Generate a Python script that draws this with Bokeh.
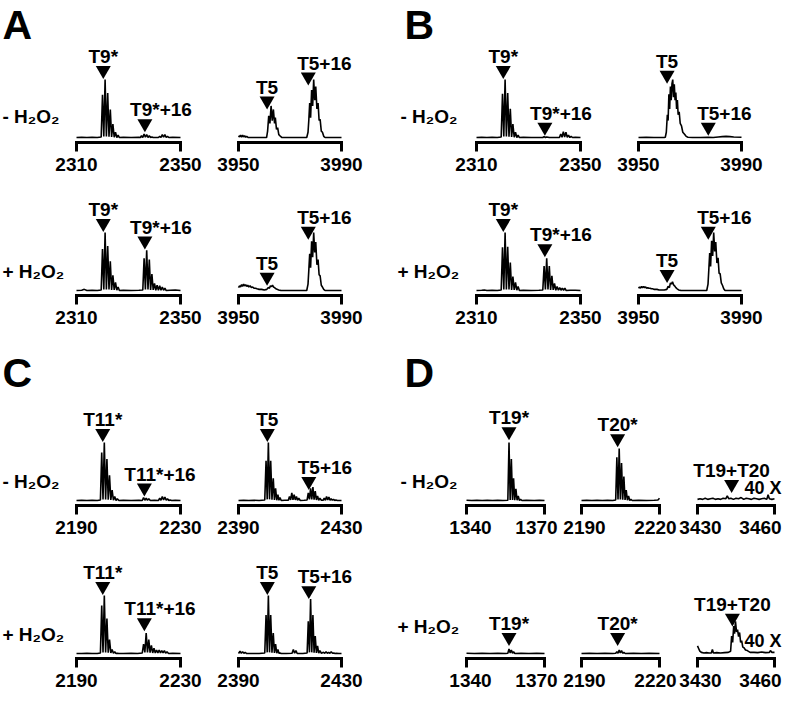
from bokeh.plotting import figure
from bokeh.layouts import row, column
from bokeh.models import Range1d, FixedTicker
from bokeh.core.properties import value
from bokeh.embed import file_html
from bokeh.resources import INLINE

# ---------------------------------------------------------------- data
panel_letters = ["A", "B", "C", "D"]
conditions = ["- H₂O₂", "+ H₂O₂"]
scale_note = "40 X"

a_lo_ticks = [2310, 2350]
a_hi_ticks = [3950, 3990]
b_lo_ticks = [2310, 2350]
b_hi_ticks = [3950, 3990]
c_lo_ticks = [2190, 2230]
c_hi_ticks = [2390, 2430]
d_t19_ticks = [1340, 1370]
d_t20_ticks = [2190, 2220]
d_xl_ticks = [3430, 3460]

# A, - H2O2, 2310-2350
a_minus_lo_mz = [2310, 2312, 2314, 2316, 2318, 2319.5, 2320, 2320.5, 2321, 2321.5, 2322, 2322.5, 2323, 2323.5, 2324, 2324.5, 2325, 2325.5, 2326, 2326.5, 2328, 2331, 2334, 2334.6, 2335, 2335.5, 2336, 2336.5, 2337, 2337.5, 2338, 2338.5, 2339, 2339.5, 2341.5, 2342, 2342.5, 2343, 2343.5, 2344, 2344.5, 2345, 2345.5, 2347, 2350]
a_minus_lo_int = [1, 1.5, 1, 1.5, 1, 2, 74, 3, 100, 3, 77, 2.5, 49, 2, 24, 1.5, 10, 1, 5, 1, 1.5, 1, 1.5, 1, 4, 1, 7, 1.5, 6, 1, 4, 1, 2, 1, 1, 3, 1, 6, 1.5, 6, 1, 3, 1, 1.5, 1]
a_minus_lo_labels = ["T9*", "T9*+16"]
a_minus_lo_peaks = [2320.3, 2336.3]
a_minus_lo_tips = [101, 10]

# A, - H2O2, 3950-3990
a_minus_hi_mz = [3950, 3950.4, 3950.8, 3951.2, 3951.6, 3952.0, 3952.4, 3952.8, 3953.2, 3953.8, 3955, 3958, 3960.9, 3961.3, 3961.74, 3962.2, 3962.65, 3963.1, 3963.55, 3964.0, 3964.3, 3964.75, 3965.2, 3965.65, 3966.1, 3966.9, 3970, 3974, 3976.5, 3977.0, 3977.3, 3977.65, 3978.0, 3978.4, 3978.8, 3979.2, 3979.6, 3980.0, 3980.45, 3980.9, 3981.3, 3981.7, 3982.15, 3982.6, 3983.1, 3983.6, 3986, 3990]
a_minus_hi_int = [4, 2, 5, 1.5, 5, 2, 4, 1.5, 3, 1, 1, 1, 1, 12, 38, 25, 55, 30, 49, 25, 35, 15, 18, 6, 4, 1, 1, 1, 1, 10, 30, 60, 35, 82, 55, 100, 65, 88, 50, 60, 30, 32, 12, 10, 3, 1, 1, 1]
a_minus_hi_labels = ["T5", "T5+16"]
a_minus_hi_peaks = [3961.1, 3977.1]
a_minus_hi_tips = [49, 90]

# A, + H2O2, 2310-2350
a_plus_lo_mz = [2310, 2312, 2313, 2314, 2316, 2318, 2319.5, 2320, 2320.5, 2321, 2321.5, 2322, 2322.5, 2323, 2323.5, 2324, 2324.5, 2325, 2325.5, 2326, 2326.5, 2328, 2331, 2334, 2335.5, 2336, 2336.5, 2337, 2337.5, 2338, 2338.5, 2339, 2339.5, 2340, 2340.5, 2341, 2341.5, 2342, 2342.5, 2343, 2343.5, 2344, 2344.5, 2346, 2348, 2350]
a_plus_lo_int = [1, 1.5, 3, 1, 1.5, 1, 2, 72, 3, 100, 3, 77, 3, 51, 2, 27, 2, 15, 1.5, 7, 1, 1.5, 1, 1.5, 2, 56, 3, 70, 3, 54, 2, 29, 2, 13, 1.5, 10, 1.5, 9, 1.5, 7, 1.5, 5, 1, 1.5, 2, 1]
a_plus_lo_labels = ["T9*", "T9*+16"]
a_plus_lo_peaks = [2320.3, 2336.3]
a_plus_lo_tips = [101, 71]

# A, + H2O2, 3950-3990
a_plus_hi_mz = [3950, 3950.4, 3950.8, 3951.2, 3951.6, 3952.0, 3952.4, 3952.8, 3953.2, 3953.6, 3954.0, 3954.5, 3955.0, 3955.5, 3956.0, 3956.6, 3957.2, 3958, 3959, 3960, 3961, 3961.5, 3962.0, 3962.4, 3962.8, 3963.2, 3963.6, 3964.0, 3964.5, 3965.0, 3965.6, 3966.5, 3968, 3971, 3974, 3976.5, 3977.0, 3977.3, 3977.65, 3978.0, 3978.4, 3978.8, 3979.2, 3979.6, 3980.0, 3980.45, 3980.9, 3981.3, 3981.7, 3982.15, 3982.6, 3983.1, 3983.6, 3986, 3990]
a_plus_hi_int = [6, 9, 7, 11, 8, 12, 9, 11, 8, 10, 7, 9, 6, 7, 5, 5, 4, 3, 3, 2, 3, 6, 5, 9, 8, 10, 7, 6, 4, 3, 2, 1, 1, 1, 1, 1, 12, 35, 64, 40, 85, 58, 100, 66, 84, 45, 54, 28, 26, 10, 7, 3, 1, 1, 1]
a_plus_hi_labels = ["T5", "T5+16"]
a_plus_hi_peaks = [3961.1, 3977.1]
a_plus_hi_tips = [9, 88]

# B, - H2O2, 2310-2350
b_minus_lo_mz = [2310, 2312, 2314, 2316, 2318, 2319.5, 2320, 2320.5, 2321, 2321.5, 2322, 2322.5, 2323, 2323.5, 2324, 2324.5, 2325, 2325.5, 2326, 2326.5, 2328, 2331, 2334, 2335.5, 2336, 2336.5, 2337, 2338, 2340, 2341.9, 2342.4, 2342.9, 2343.4, 2343.9, 2344.4, 2344.9, 2345.4, 2345.9, 2346.4, 2346.9, 2348, 2350]
b_minus_lo_int = [1, 1.5, 1, 1.5, 1, 2, 76, 3, 100, 3, 77, 2.5, 50, 2, 24, 1.5, 10, 1, 5, 1, 1.5, 1, 1, 1, 2.5, 1, 2, 1, 1, 1, 7, 1.5, 11, 2, 10, 1.5, 5, 1, 3, 1, 1.5, 1]
b_minus_lo_labels = ["T9*", "T9*+16"]
b_minus_lo_peaks = [2320.3, 2336.3]
b_minus_lo_tips = [101, 4]

# B, - H2O2, 3950-3990
b_minus_hi_mz = [3950, 3953, 3956, 3958, 3960.0, 3960.4, 3960.8, 3961.2, 3961.5, 3961.8, 3962.1, 3962.4, 3962.7, 3963.0, 3963.3, 3963.6, 3963.9, 3964.2, 3964.5, 3964.8, 3965.1, 3965.4, 3965.8, 3966.2, 3966.7, 3967.2, 3967.8, 3968.5, 3969.2, 3971, 3974, 3977, 3979, 3981, 3982.5, 3984, 3985.5, 3987, 3990]
b_minus_hi_int = [1, 1.5, 1, 1, 1, 1.5, 10, 40, 30, 75, 50, 88, 65, 93, 100, 70, 92, 65, 78, 50, 65, 40, 45, 25, 21, 10, 7, 3, 1.5, 1, 1, 1.5, 1, 2, 2.5, 3, 2.5, 2, 1.5]
b_minus_hi_labels = ["T5", "T5+16"]
b_minus_hi_peaks = [3961.1, 3977.1]
b_minus_hi_tips = [93, 4]

# B, + H2O2, 2310-2350
b_plus_lo_mz = [2310, 2312, 2313, 2314, 2316, 2318, 2319.5, 2320, 2320.5, 2321, 2321.5, 2322, 2322.5, 2323, 2323.5, 2324, 2324.5, 2325, 2325.5, 2326, 2326.5, 2328, 2331, 2334, 2335.5, 2336, 2336.5, 2337, 2337.5, 2338, 2338.5, 2339, 2339.5, 2340, 2340.5, 2341, 2341.5, 2342, 2342.5, 2343, 2343.5, 2344, 2344.5, 2346, 2348, 2350]
b_plus_lo_int = [1, 1.5, 2, 1, 1.5, 1, 2, 75, 3, 100, 3, 76, 3, 49, 2, 25, 2, 15, 1.5, 8, 1, 1.5, 1, 1.5, 2, 43, 3, 56, 3, 43, 2, 26, 2, 13, 1.5, 8, 1.5, 6, 1.5, 5, 1.5, 5, 1, 1.5, 1.5, 1]
b_plus_lo_labels = ["T9*", "T9*+16"]
b_plus_lo_peaks = [2320.3, 2336.3]
b_plus_lo_tips = [101, 58]

# B, + H2O2, 3950-3990
b_plus_hi_mz = [3950, 3950.4, 3950.8, 3951.2, 3951.6, 3952.0, 3952.4, 3952.8, 3953.2, 3953.6, 3954.0, 3954.5, 3955.0, 3955.5, 3956.0, 3956.6, 3957.2, 3958, 3959, 3960, 3961, 3961.5, 3962.0, 3962.4, 3962.8, 3963.2, 3963.6, 3964.0, 3964.5, 3965.0, 3965.6, 3966.5, 3968, 3971, 3974, 3976.5, 3977.0, 3977.3, 3977.65, 3978.0, 3978.4, 3978.8, 3979.2, 3979.6, 3980.0, 3980.45, 3980.9, 3981.3, 3981.7, 3982.15, 3982.6, 3983.1, 3983.6, 3986, 3990]
b_plus_hi_int = [5, 7, 5, 8, 6, 8, 6, 7, 5, 6, 5, 5, 4, 4, 3, 3, 3, 2, 2, 2, 3, 8, 6, 14, 12, 16, 11, 9, 6, 4, 2, 1, 1, 1, 1, 1, 12, 36, 65, 42, 86, 60, 100, 68, 84, 48, 57, 30, 30, 14, 10, 4, 1, 1, 1]
b_plus_hi_labels = ["T5", "T5+16"]
b_plus_hi_peaks = [3961.1, 3977.1]
b_plus_hi_tips = [14, 88]

# C, - H2O2, 2190-2230
c_minus_lo_mz = [2190, 2192, 2194, 2196, 2198, 2199.2, 2199.7, 2200.2, 2200.7, 2201.2, 2201.7, 2202.2, 2202.7, 2203.2, 2203.7, 2204.2, 2204.7, 2205.2, 2205.7, 2206.3, 2208, 2211, 2214, 2215.3, 2215.8, 2216.3, 2216.8, 2217.3, 2217.8, 2218.4, 2220, 2221.5, 2222.0, 2222.5, 2223.0, 2223.5, 2224.0, 2224.5, 2225.0, 2225.5, 2226.0, 2226.6, 2228, 2230]
c_minus_lo_int = [1, 1.5, 1, 1.5, 1, 2, 83, 3, 100, 3, 72, 2.5, 44, 2, 19, 1.5, 8, 1, 4, 1, 1.5, 1, 1.5, 1, 6, 1.5, 5, 1.5, 4, 1, 1.5, 1, 5, 1.5, 8, 2, 7, 1.5, 4, 1, 2, 1, 1.5, 1]
c_minus_lo_labels = ["T11*", "T11*+16"]
c_minus_lo_peaks = [2200.1, 2216.1]
c_minus_lo_tips = [101, 8]

# C, - H2O2, 2390-2430
c_minus_hi_mz = [2390, 2392, 2394, 2396, 2398, 2400.2, 2400.7, 2401.15, 2401.6, 2402.05, 2402.5, 2403.0, 2403.5, 2403.95, 2404.4, 2404.85, 2405.3, 2405.7, 2406.1, 2406.6, 2408, 2409.35, 2409.8, 2410.25, 2410.7, 2411.15, 2411.6, 2412.05, 2412.5, 2412.95, 2413.4, 2414, 2415.5, 2416.65, 2417.1, 2417.55, 2418.0, 2418.45, 2418.9, 2419.35, 2419.8, 2420.25, 2420.7, 2421.15, 2421.6, 2422.2, 2422.85, 2423.3, 2423.75, 2424.2, 2424.65, 2425.1, 2425.55, 2426.0, 2426.45, 2426.9, 2427.35, 2427.8, 2428.4, 2430]
c_minus_hi_int = [1, 1.5, 1, 1.5, 1, 2, 69, 3, 100, 3, 69, 2.5, 39, 2, 22, 1.5, 11, 1.5, 6, 1, 1.5, 1.5, 8, 2, 14, 2, 11, 2, 8, 1.5, 5, 1, 1.5, 2, 14, 3, 22, 3, 24, 2.5, 17, 2, 9, 1.5, 5, 1.5, 1.5, 5, 1.5, 8, 2, 7, 1.5, 4, 1.5, 3, 1, 2, 1, 1]
c_minus_hi_labels = ["T5", "T5+16"]
c_minus_hi_peaks = [2401.2, 2417.3]
c_minus_hi_tips = [101, 19]

# C, + H2O2, 2190-2230
c_plus_lo_mz = [2190, 2192, 2194, 2196, 2198, 2199.2, 2199.7, 2200.2, 2200.7, 2201.2, 2201.7, 2202.2, 2202.7, 2203.2, 2203.7, 2204.2, 2204.7, 2205.2, 2205.7, 2206.3, 2208, 2211, 2213.5, 2215.3, 2215.8, 2216.3, 2216.8, 2217.3, 2217.8, 2218.3, 2218.8, 2219.3, 2219.8, 2220.3, 2220.8, 2221.3, 2221.8, 2222.3, 2222.8, 2223.3, 2223.8, 2224.3, 2224.8, 2225.4, 2227, 2230]
c_plus_lo_int = [1, 1, 1.5, 1, 1, 2, 83, 3, 100, 3, 61, 2.5, 25, 2, 8, 1.5, 4, 1, 1.5, 1, 1, 1.5, 1, 2, 17, 3, 36, 3, 25, 2.5, 15, 2, 10, 2, 7, 2, 7, 2, 6, 2, 6, 1.5, 4, 1, 1.5, 1]
c_plus_lo_labels = ["T11*", "T11*+16"]
c_plus_lo_peaks = [2200.1, 2216.1]
c_plus_lo_tips = [101, 39]

# C, + H2O2, 2390-2430
c_plus_hi_mz = [2390, 2390.6, 2391.1, 2391.6, 2392.1, 2392.6, 2393.2, 2395, 2398, 2400.2, 2400.7, 2401.15, 2401.6, 2402.05, 2402.5, 2403.0, 2403.5, 2403.95, 2404.4, 2404.85, 2405.3, 2405.7, 2406.1, 2406.6, 2408.5, 2410.8, 2411.3, 2411.8, 2412.3, 2412.8, 2415, 2416.65, 2417.1, 2417.55, 2418.0, 2418.45, 2418.9, 2419.35, 2419.8, 2420.25, 2420.7, 2421.15, 2421.6, 2422.2, 2423.0, 2423.5, 2424.0, 2424.5, 2425.0, 2425.5, 2426.0, 2426.5, 2427.0, 2427.5, 2428.0, 2429, 2430]
c_plus_hi_int = [1, 5, 1.5, 4, 1.5, 3, 1, 1, 1, 2, 67, 3, 100, 3, 67, 2.5, 36, 2, 17, 1.5, 8, 1.5, 2, 1, 1, 1.5, 8, 1.5, 6, 1, 1, 2, 56, 3, 94, 3, 67, 2.5, 31, 2, 14, 1.5, 6, 1.5, 3, 1.5, 4, 1.5, 3, 1.5, 4, 1.5, 2, 1, 1.5, 1, 1]
c_plus_hi_labels = ["T5", "T5+16"]
c_plus_hi_peaks = [2401.2, 2417.3]
c_plus_hi_tips = [101, 94]

# D, - H2O2
d_minus_t19_mz = [1340, 1342, 1344, 1346, 1348, 1350, 1352, 1354, 1355.9, 1356.35, 1356.8, 1357.25, 1357.7, 1358.1, 1358.55, 1359.0, 1359.45, 1359.9, 1360.35, 1360.8, 1361.3, 1363, 1366, 1368, 1370]
d_minus_t19_int = [1.5, 1, 1.5, 1, 1.5, 1, 1.5, 1, 1.5, 100, 2, 72, 2, 39, 1.5, 21, 1.5, 9, 1, 3, 1, 1.5, 1, 1.5, 1]
d_minus_t19_labels = ["T19*"]
d_minus_t19_peaks = [1356.35]
d_minus_t19_tips = [104]

d_minus_t20_mz = [2190, 2192, 2194, 2196, 2198, 2200, 2202, 2203.15, 2203.6, 2204.05, 2204.5, 2204.95, 2205.4, 2205.85, 2206.3, 2206.75, 2207.2, 2207.65, 2208.1, 2208.55, 2209.0, 2209.5, 2212, 2215, 2218, 2219.4, 2220]
d_minus_t20_int = [1, 1.5, 1, 1.5, 1, 1.5, 1, 2, 75, 3, 90, 3, 65, 2.5, 42, 2, 19, 1.5, 9, 1, 3, 1, 1.5, 1, 1.5, 2, 5]
d_minus_t20_labels = ["T20*"]
d_minus_t20_peaks = [2203.9]
d_minus_t20_tips = [92]

d_minus_xl_mz = [3430, 3431, 3432, 3433, 3434, 3435, 3436, 3437, 3438, 3439, 3440, 3441, 3441.6, 3442.2, 3443, 3444, 3445, 3446, 3447, 3448, 3449, 3450, 3451, 3452, 3453, 3454, 3455, 3456, 3457, 3457.5, 3458, 3459, 3460]
d_minus_xl_int = [3, 4, 3, 5, 3, 4, 5, 3, 4, 3, 5, 4, 9, 4, 5, 3, 5, 4, 6, 3, 5, 4, 3, 5, 4, 3, 4, 5, 3, 11, 4, 3, 4]
d_minus_xl_labels = ["T19+T20"]
d_minus_xl_peaks = [3443.3]
d_minus_xl_tips = [14]

# D, + H2O2
d_plus_t19_mz = [1340, 1343, 1346, 1349, 1352, 1355, 1355.9, 1356.35, 1356.8, 1357.25, 1357.7, 1358.1, 1358.6, 1361, 1364, 1367, 1370]
d_plus_t19_int = [1.5, 1, 1.5, 1, 1.5, 1, 1.5, 9, 2, 7, 1.5, 4, 1, 1.5, 1, 1.5, 1]
d_plus_t19_labels = ["T19*"]
d_plus_t19_peaks = [1356.35]
d_plus_t19_tips = [14]

d_plus_t20_mz = [2190, 2193, 2196, 2199, 2202, 2203.15, 2203.6, 2204.05, 2204.5, 2204.95, 2205.4, 2205.85, 2206.3, 2206.8, 2210, 2213, 2216, 2220]
d_plus_t20_int = [1, 1.5, 1, 1.5, 1, 1.5, 4, 1.5, 7, 2, 6, 1.5, 3, 1, 1.5, 1, 1.5, 1]
d_plus_t20_labels = ["T20*"]
d_plus_t20_peaks = [2203.9]
d_plus_t20_tips = [14]

d_plus_xl_mz = [3430, 3430.4, 3430.9, 3431.5, 3432.5, 3433.5, 3434.5, 3435.4, 3435.8, 3436.2, 3437.5, 3439, 3440.5, 3442, 3442.9, 3443.3, 3443.7, 3444.1, 3444.45, 3444.8, 3445.2, 3445.6, 3446.0, 3446.4, 3446.8, 3447.2, 3447.65, 3448.1, 3448.7, 3449.4, 3450.5, 3452, 3453.5, 3455, 3456.5, 3458, 3458.4, 3459, 3460]
d_plus_xl_int = [14, 10, 5, 3, 2, 2.5, 2, 2, 8, 2, 2.5, 2, 2.5, 3, 5, 31, 20, 48, 35, 56, 38, 42, 30, 37, 20, 23, 12, 11, 7, 6, 3, 3, 2.5, 3.5, 2.5, 3, 6, 3, 3]
d_plus_xl_labels = ["T19+T20"]
d_plus_xl_peaks = [3443.6]
d_plus_xl_tips = [47]

# ---------------------------------------------------------------- layout
FONT = "Liberation Sans"
K = 0.975                 # vertical compression of the reference
PPU = 0.60 * K            # pixels per % intensity
BASE = 4.5 * K            # spectrum baseline above the bracket
ROWS = [(186, 142), (154, 109), (216, 165), (142, 102)]   # (height, bracket from top)
LETTER_CENTER = {0: 24.5, 2: 32.0}                      # px below row top
LABEL_GAP = 22.4          # label centre above the triangle tip (px)
TRI_CENTER = 8.66         # triangle centre above its tip (px)
W_EM = {"T": 0.611, "*": 0.389, "+": 0.584}


def text_w(s, size):
    return sum(W_EM.get(ch, 0.556) for ch in s) * size


def panel(fx, bx, ri, ticks, mz, inten, labels, peaks, tips,
          letter=None, cond=None, note=False, shifts=None):
    fx0, fx1 = fx
    bx0, bx1 = bx
    H, B = ROWS[ri]
    d0, d1 = ticks
    s = (bx1 - bx0) / (d1 - d0)
    xr = Range1d(start=d0 - (bx0 - fx0) / s, end=d1 + (fx1 - bx1) / s)
    y0 = -BASE / PPU
    yr = Range1d(start=y0, end=y0 + B / PPU)

    def X(page_x):
        return xr.start + (page_x - 8 - fx0) / s

    def YA(px):
        return y0 + px / PPU

    p = figure(width=fx1 - fx0, height=H, x_range=xr, y_range=yr,
               output_backend="svg", toolbar_location=None, tools="",
               min_border=0, min_border_bottom=H - B,
               y_axis_location=None, outline_line_color=None)
    p.grid.visible = False
    ax = p.xaxis[0]
    ax.bounds = (d0, d1)
    if shifts is None:
        ax.ticker = FixedTicker(ticks=list(ticks))
        ax.minor_tick_line_color = None
        ax.major_tick_line_color = "black"
    else:
        # bracket ends are drawn as minor ticks; the labels sit slightly inside them
        lab_ticks = [d + sh / s for d, sh in zip(ticks, shifts)]
        ax.ticker = FixedTicker(ticks=lab_ticks, minor_ticks=list(ticks))
        ax.major_label_overrides = {t: str(d) for t, d in zip(lab_ticks, ticks)}
        ax.major_tick_line_color = None
        ax.minor_tick_line_color = "black"
    ax.axis_line_width = 3
    ax.axis_line_cap = "square"
    ax.major_tick_line_width = 3
    ax.major_tick_out = 9
    ax.major_tick_in = 0
    ax.minor_tick_line_width = 3
    ax.minor_tick_out = 9
    ax.minor_tick_in = 0
    ax.major_label_standoff = 6
    ax.major_label_text_font = FONT
    ax.major_label_text_font_style = "bold"
    ax.major_label_text_font_size = "19px"
    ax.major_label_text_color = "black"

    p.line(mz, inten, line_color="black", line_width=1.6)

    p.scatter(x=peaks, y=[t + TRI_CENTER / PPU for t in tips], marker="inverted_triangle",
              size=15, fill_color="black", line_color=None)

    lx, ly, lt, cx, cy, ct = [], [], [], [], [], []
    for lab, pk, tp in zip(labels, peaks, tips):
        if lab.endswith("+16"):
            lx.append(pk - text_w(lab[:-3], 19) / 2 / s)
            ly.append(tp + LABEL_GAP / PPU)
            lt.append(lab)
        else:
            cx.append(pk)
            cy.append(tp + LABEL_GAP / PPU)
            ct.append(lab)
    common = dict(text_font=value(FONT), text_font_style="bold",
                  text_font_size="19px", text_color="black", text_baseline="middle")
    if lt:
        p.text(x=lx, y=ly, text=lt, text_align="left", **common)
    if ct:
        p.text(x=cx, y=cy, text=ct, text_align="center", **common)

    if letter is not None:
        p.text(x=[X(letter[1])], y=[YA(B - LETTER_CENTER[ri])], text=[letter[0]],
               text_font=value(FONT), text_font_style="bold", text_font_size="41px",
               text_align="left", text_baseline="middle", text_color="black")
    if cond is not None:
        p.text(x=[X(cond[1])], y=[YA(cond[2] * K)], text=[cond[0]],
               text_font=value(FONT), text_font_style="bold", text_font_size="19px",
               text_align="left", text_baseline="middle", text_color="black")
    if note:
        p.text(x=[X(789)], y=[YA(18 * K)], text=[scale_note],
               text_font=value(FONT), text_font_style="bold", text_font_size="18px",
               text_align="right", text_baseline="middle", text_color="black")
    return p


TOP_FX = [(0, 209), (209, 392), (392, 609), (609, 784)]
TOP_BX = [(76, 180), (238, 341), (476, 580), (638, 741)]
BOT_FX = [(0, 209), (209, 392), (392, 562), (562, 678), (678, 784)]
BOT_BX = [(76, 180), (238, 341), (466, 544), (581, 659), (697, 774)]
D_SHIFTS = [(4, -8), (3, -4), (3, -14)]

row0 = [
    panel(TOP_FX[0], TOP_BX[0], 0, a_lo_ticks, a_minus_lo_mz, a_minus_lo_int, a_minus_lo_labels, a_minus_lo_peaks, a_minus_lo_tips,
          letter=(panel_letters[0], 10), cond=(conditions[0], 10, 26.5)),
    panel(TOP_FX[1], TOP_BX[1], 0, a_hi_ticks, a_minus_hi_mz, a_minus_hi_int, a_minus_hi_labels, a_minus_hi_peaks, a_minus_hi_tips),
    panel(TOP_FX[2], TOP_BX[2], 0, b_lo_ticks, b_minus_lo_mz, b_minus_lo_int, b_minus_lo_labels, b_minus_lo_peaks, b_minus_lo_tips,
          letter=(panel_letters[1], 412), cond=(conditions[0], 408, 26.5)),
    panel(TOP_FX[3], TOP_BX[3], 0, b_hi_ticks, b_minus_hi_mz, b_minus_hi_int, b_minus_hi_labels, b_minus_hi_peaks, b_minus_hi_tips),
]
row1 = [
    panel(TOP_FX[0], TOP_BX[0], 1, a_lo_ticks, a_plus_lo_mz, a_plus_lo_int, a_plus_lo_labels, a_plus_lo_peaks, a_plus_lo_tips,
          cond=(conditions[1], 10, 25)),
    panel(TOP_FX[1], TOP_BX[1], 1, a_hi_ticks, a_plus_hi_mz, a_plus_hi_int, a_plus_hi_labels, a_plus_hi_peaks, a_plus_hi_tips),
    panel(TOP_FX[2], TOP_BX[2], 1, b_lo_ticks, b_plus_lo_mz, b_plus_lo_int, b_plus_lo_labels, b_plus_lo_peaks, b_plus_lo_tips,
          cond=(conditions[1], 405, 25)),
    panel(TOP_FX[3], TOP_BX[3], 1, b_hi_ticks, b_plus_hi_mz, b_plus_hi_int, b_plus_hi_labels, b_plus_hi_peaks, b_plus_hi_tips),
]
row2 = [
    panel(BOT_FX[0], BOT_BX[0], 2, c_lo_ticks, c_minus_lo_mz, c_minus_lo_int, c_minus_lo_labels, c_minus_lo_peaks, c_minus_lo_tips,
          letter=(panel_letters[2], 10), cond=(conditions[0], 10, 25)),
    panel(BOT_FX[1], BOT_BX[1], 2, c_hi_ticks, c_minus_hi_mz, c_minus_hi_int, c_minus_hi_labels, c_minus_hi_peaks, c_minus_hi_tips),
    panel(BOT_FX[2], BOT_BX[2], 2, d_t19_ticks, d_minus_t19_mz, d_minus_t19_int, d_minus_t19_labels, d_minus_t19_peaks, d_minus_t19_tips,
          letter=(panel_letters[3], 412), cond=(conditions[0], 408, 25), shifts=D_SHIFTS[0]),
    panel(BOT_FX[3], BOT_BX[3], 2, d_t20_ticks, d_minus_t20_mz, d_minus_t20_int, d_minus_t20_labels, d_minus_t20_peaks, d_minus_t20_tips,
          shifts=D_SHIFTS[1]),
    panel(BOT_FX[4], BOT_BX[4], 2, d_xl_ticks, d_minus_xl_mz, d_minus_xl_int, d_minus_xl_labels, d_minus_xl_peaks, d_minus_xl_tips,
          note=True, shifts=D_SHIFTS[2]),
]
row3 = [
    panel(BOT_FX[0], BOT_BX[0], 3, c_lo_ticks, c_plus_lo_mz, c_plus_lo_int, c_plus_lo_labels, c_plus_lo_peaks, c_plus_lo_tips,
          cond=(conditions[1], 10, 25)),
    panel(BOT_FX[1], BOT_BX[1], 3, c_hi_ticks, c_plus_hi_mz, c_plus_hi_int, c_plus_hi_labels, c_plus_hi_peaks, c_plus_hi_tips),
    panel(BOT_FX[2], BOT_BX[2], 3, d_t19_ticks, d_plus_t19_mz, d_plus_t19_int, d_plus_t19_labels, d_plus_t19_peaks, d_plus_t19_tips,
          cond=(conditions[1], 405, 33), shifts=D_SHIFTS[0]),
    panel(BOT_FX[3], BOT_BX[3], 3, d_t20_ticks, d_plus_t20_mz, d_plus_t20_int, d_plus_t20_labels, d_plus_t20_peaks, d_plus_t20_tips,
          shifts=D_SHIFTS[1]),
    panel(BOT_FX[4], BOT_BX[4], 3, d_xl_ticks, d_plus_xl_mz, d_plus_xl_int, d_plus_xl_labels, d_plus_xl_peaks, d_plus_xl_tips,
          note=True, shifts=D_SHIFTS[2]),
]

layout = column(row(*row0), row(*row1), row(*row2), row(*row3))
with open("out.html", "w", encoding="utf-8") as f:
    f.write(file_html(layout, INLINE, title="Mass spectra"))
